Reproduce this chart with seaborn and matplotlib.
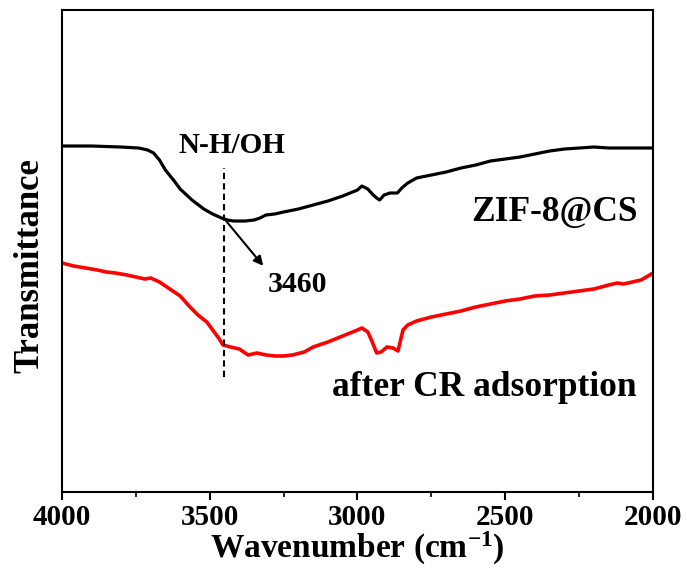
import matplotlib
matplotlib.use("Agg")
import matplotlib.pyplot as plt
from matplotlib.ticker import MultipleLocator
import seaborn as sns
import pandas as pd

# ZIF-8@CS spectrum (wavenumber, arbitrary transmittance)
zif_wn = [4000, 3900, 3800, 3740, 3710, 3690, 3670, 3650, 3620, 3600, 3560, 3520, 3490,
          3460, 3440, 3420, 3380, 3350, 3330, 3310, 3280, 3250, 3200, 3150, 3100, 3050,
          3000, 2985, 2965, 2950, 2935, 2925, 2910, 2890, 2865, 2850, 2830, 2800, 2750,
          2700, 2650, 2600, 2550, 2500, 2450, 2400, 2350, 2300, 2250, 2200, 2150, 2100,
          2050, 2000]
zif_px = [146, 146, 147, 148, 150, 153, 160, 170, 181, 189, 200, 209, 214,
          218, 220, 221, 221, 220, 218, 215, 214, 212, 209, 205, 201, 196,
          190, 186, 189, 194, 198, 200, 195, 193, 193, 188, 183, 178, 175,
          172, 168, 165, 161, 159, 157, 154, 151, 149, 148, 147, 148, 148,
          148, 148]

# after CR adsorption spectrum
cr_wn = [4000, 3960, 3920, 3880, 3850, 3820, 3780, 3750, 3720, 3700, 3670, 3640, 3600,
         3570, 3540, 3510, 3490, 3470, 3455, 3430, 3400, 3370, 3340, 3310, 3280, 3250,
         3220, 3180, 3150, 3100, 3050, 3000, 2985, 2965, 2950, 2935, 2920, 2900, 2880,
         2863, 2846, 2830, 2800, 2750, 2700, 2650, 2600, 2550, 2500, 2450, 2400, 2350,
         2300, 2250, 2200, 2150, 2120, 2100, 2070, 2040, 2000]
cr_px = [263, 266, 268, 270, 272, 273, 275, 277, 279, 278, 282, 288, 296,
         306, 315, 322, 330, 338, 345, 347, 349, 355, 353, 355, 356, 356,
         355, 352, 347, 342, 336, 330, 328, 332, 342, 353, 352, 347, 348,
         351, 330, 325, 321, 317, 314, 311, 307, 304, 301, 299, 296, 295,
         293, 291, 289, 285, 283, 284, 282, 280, 273]

zif_t = [492 - v for v in zif_px]
cr_t = [492 - v for v in cr_px]

df_zif = pd.DataFrame({"wn": zif_wn, "t": zif_t})
df_cr = pd.DataFrame({"wn": cr_wn, "t": cr_t})

sns.set_style("ticks")
plt.rcParams["font.family"] = ["Liberation Serif", "DejaVu Serif"]
plt.rcParams["font.weight"] = "bold"
plt.rcParams["text.color"] = "black"
plt.rcParams["axes.labelcolor"] = "black"
plt.rcParams["xtick.color"] = "black"
plt.rcParams["mathtext.fontset"] = "custom"
plt.rcParams["mathtext.rm"] = "Liberation Serif:bold"
plt.rcParams["mathtext.it"] = "Liberation Serif:bold"
plt.rcParams["mathtext.bf"] = "Liberation Serif:bold"
plt.rcParams["mathtext.default"] = "rm"

fig = plt.figure(figsize=(6.87, 5.73), dpi=100)
ax = fig.add_axes([0.0902, 0.1414, 0.8603, 0.8411])

sns.lineplot(data=df_zif, x="wn", y="t", ax=ax, color="black", linewidth=2.3, sort=False)
sns.lineplot(data=df_cr, x="wn", y="t", ax=ax, color="#ff0000", linewidth=2.6, sort=False)

ax.set_xlim(4000, 2000)
ax.set_ylim(0, 482)
ax.xaxis.set_major_locator(MultipleLocator(500))
ax.xaxis.set_minor_locator(MultipleLocator(250))
ax.set_yticks([])
ax.tick_params(axis="x", which="major", direction="out", length=6, width=1.5,
               labelsize=21, top=False, pad=3, colors="black")
ax.tick_params(axis="x", which="minor", direction="out", length=3.5, width=1.2, top=False)
for lab in ax.get_xticklabels():
    lab.set_fontweight("bold")
for sp in ax.spines.values():
    sp.set_linewidth(1.5)
    sp.set_color("black")

ax.set_xlabel("Wavenumber (cm$^{-1}$)", fontsize=24, fontweight="bold", labelpad=-1)
ax.set_ylabel("Transmittance", fontsize=25, fontweight="bold")
ax.yaxis.set_label_coords(-0.026, 0.47)

# annotations
ax.plot([3450, 3450], [115, 324], linestyle=(0, (3, 2)), color="black", linewidth=1.5)
ax.annotate("", xy=(3313, 224), xytext=(3450, 273),
            arrowprops=dict(arrowstyle="-|>", color="black", lw=1.5, mutation_scale=14))
ax.text(3303, 207, "3460", fontsize=21.5, fontweight="bold", ha="left", va="center")
ax.text(3425, 347, "N-H/OH", fontsize=21, fontweight="bold", ha="center", va="center")
ax.text(2051, 280, "ZIF-8@CS", fontsize=25.5, fontweight="bold", ha="right", va="center")
ax.text(2054, 104, "after CR adsorption", fontsize=25.5, fontweight="bold", ha="right", va="center")

fig.savefig("out.png", dpi=100)
